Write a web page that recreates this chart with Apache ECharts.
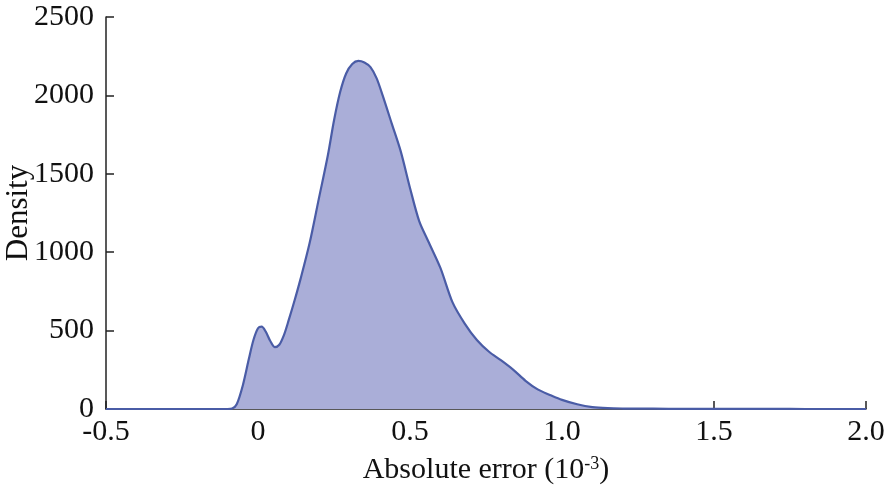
<!DOCTYPE html>
<html><head><meta charset="utf-8">
<script src="https://cdn.jsdelivr.net/npm/echarts@6/dist/echarts.min.js"></script>
<style>html,body{margin:0;padding:0;background:#fff}#c{width:888px;height:489px}</style>
</head><body><div id="c"></div>
<script>
const xValues = [-0.5, -0.2, -0.1, -0.085, -0.07, -0.05, -0.03, -0.015, 0.0, 0.012, 0.025, 0.04, 0.055, 0.07, 0.085, 0.1, 0.12, 0.14, 0.17, 0.2, 0.23, 0.25, 0.27, 0.29, 0.31, 0.33, 0.35, 0.37, 0.39, 0.41, 0.44, 0.47, 0.5, 0.53, 0.56, 0.6, 0.64, 0.68, 0.72, 0.76, 0.8, 0.84, 0.88, 0.92, 0.96, 1.0, 1.05, 1.1, 1.15, 1.2, 1.3, 1.4, 1.5, 1.6, 1.7, 1.8, 2.0];
const density = [0, 0, 0, 3, 30, 150, 320, 440, 515, 525, 495, 435, 395, 410, 470, 560, 690, 830, 1060, 1340, 1620, 1840, 2020, 2140, 2200, 2220, 2210, 2180, 2110, 2000, 1820, 1640, 1410, 1200, 1070, 900, 680, 545, 440, 365, 310, 250, 180, 125, 90, 58, 30, 12, 5, 3, 2, 1, 1, 1, 1, 0, 0];
const xTicks = [-0.5, 0, 0.5, 1.0, 1.5, 2.0];
const yTicks = [0, 500, 1000, 1500, 2000, 2500];

const font = 'Liberation Serif';
const chart = echarts.init(document.getElementById('c'));
chart.setOption({
  animation: false,
  grid: {left: 106, right: 22, top: 17, bottom: 80, containLabel: false, outerBoundsMode: 'none'},
  xAxis: {
    type: 'value', min: xTicks[0], max: xTicks[xTicks.length-1], interval: 0.5,
    name: '{a|Absolute error (10}{s|-3}{a|)}', nameLocation: 'middle', nameGap: 46,
    nameTextStyle: {rich: {a: {fontFamily: font, fontSize: 30, color: '#111'}, s: {fontFamily: font, fontSize: 18, color: '#111', verticalAlign: 'top', padding: [0,0,12,0]}}},
    axisLine: {onZero: false, lineStyle: {color: '#222', width: 1.5}},
    axisTick: {inside: true, length: 8, lineStyle: {color: '#222', width: 1.5}},
    axisLabel: {fontFamily: font, fontSize: 30, color: '#111', margin: 8,
      formatter: v => v === 0 ? '0' : v.toFixed(1)},
    splitLine: {show: false}
  },
  yAxis: {
    type: 'value', min: 0, max: 2500, interval: 500,
    name: 'Density', nameLocation: 'middle', nameGap: 72, nameMoveOverlap: false,
    nameTextStyle: {fontFamily: font, fontSize: 31, color: '#111'},
    axisLine: {show: true, onZero: false, lineStyle: {color: '#222', width: 1.5}},
    axisTick: {show: true, inside: true, length: 8, lineStyle: {color: '#222', width: 1.5}},
    axisLabel: {fontFamily: font, fontSize: 30, color: '#111', margin: 12, formatter: v => String(v)},
    splitLine: {show: false}
  },
  series: [{
    type: 'line', smooth: 0.3, symbol: 'none',
    data: xValues.map((x, i) => [x, density[i]]),
    lineStyle: {color: '#4a5ca6', width: 2.2},
    areaStyle: {color: '#aaaed8', opacity: 1}
  }]
});
</script></body></html>
